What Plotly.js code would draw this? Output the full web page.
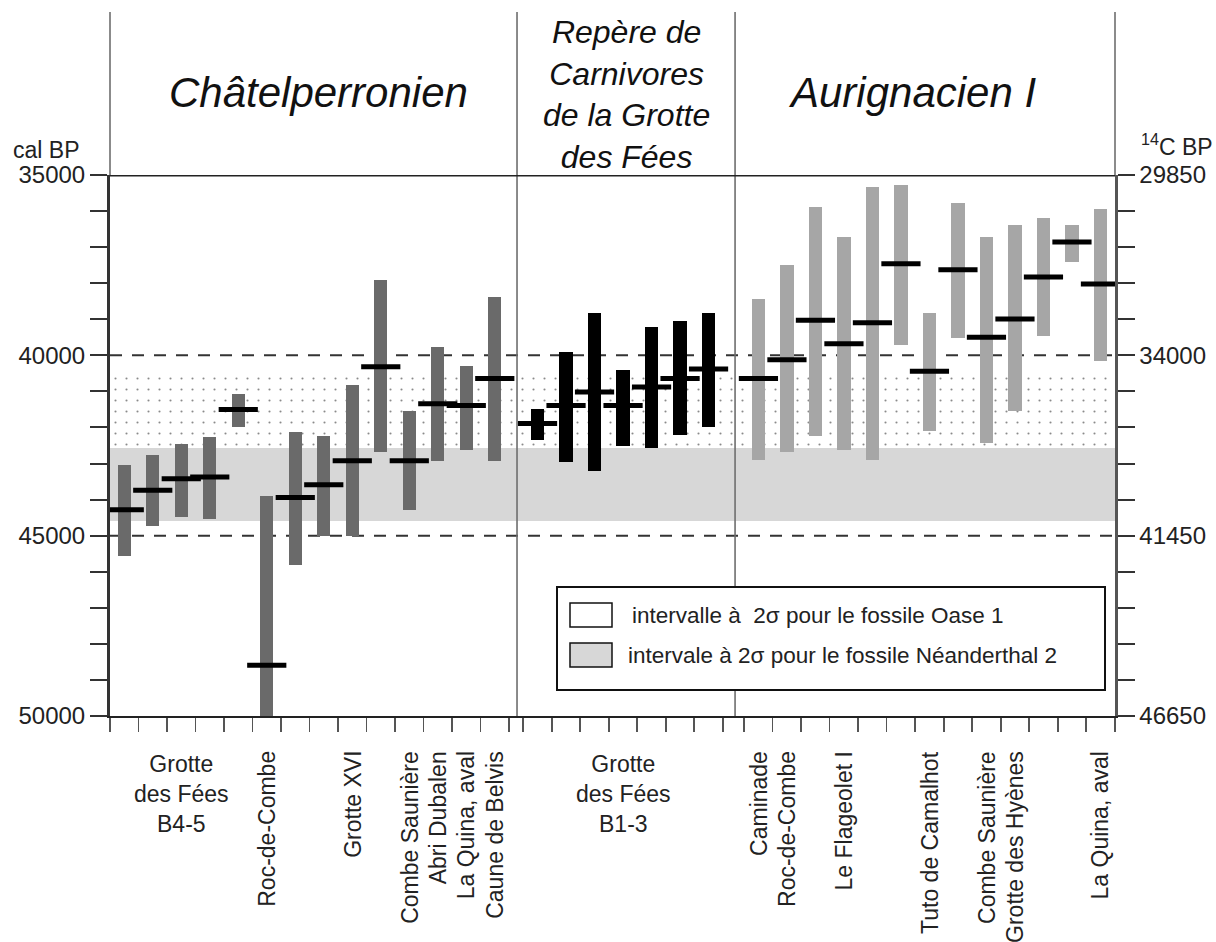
<!DOCTYPE html>
<html>
<head>
<meta charset="utf-8">
<script src="https://cdn.plot.ly/plotly-3.0.1.min.js"></script>
<style>
  html, body { margin: 0; padding: 0; background: #fff; }
  #chart { width: 1216px; height: 942px; }
</style>
</head>
<body>
<div id="chart"></div>
<script>
// ---------------- DATA ----------------
// Châtelperronien (cal BP): young bound, old bound, mean
const chatYoung = [43040, 42770, 42450, 42260, 41070, 43910, 42130, 42230, 40810, 37920, 41550, 39780, 40300, 38380];
const chatOld   = [45570, 44730, 44480, 44530, 41980, 50000, 45820, 45000, 45000, 42670, 44290, 42920, 42620, 42920];
const chatMean  = [44280, 43740, 43420, 43370, 41500, 48590, 43940, 43590, 42920, 40320, 42920, 41340, 41390, 40640];
const chatSiteLabels = ['', '', '', '', '', 'Roc-de-Combe', '', '', 'Grotte XVI', '', 'Combe Saunière', 'Abri Dubalen', 'La Quina, aval', 'Caune de Belvis'];
const chatGroupLabel = 'Grotte<br>des Fées<br>B4-5';
const chatGroupCount = 5;

// Repère de Carnivores de la Grotte des Fées
const repYoung = [41490, 39920, 38830, 40420, 39220, 39060, 38830];
const repOld   = [42350, 42950, 43210, 42500, 42570, 42220, 41980];
const repMean  = [41890, 41390, 41020, 41390, 40880, 40640, 40380];
const repGroupLabel = 'Grotte<br>des Fées<br>B1-3';

// Aurignacien I
const aurYoung = [38440, 37490, 35880, 36730, 35340, 35280, 38830, 35780, 36730, 36400, 36200, 36400, 35950];
const aurOld   = [42890, 42680, 42240, 42630, 42910, 39720, 42100, 39520, 42430, 41530, 39450, 37400, 40150];
const aurMean  = [40640, 40120, 39030, 39680, 39100, 37460, 40440, 37630, 39500, 38990, 37830, 36860, 38020];
const aurSiteLabels = ['Caminade', 'Roc-de-Combe', '', 'Le Flageolet I', '', '', 'Tuto de Camalhot', '', 'Combe Saunière', 'Grotte des Hyènes', '', '', 'La Quina, aval'];

// Section titles
const sectionTitles = ['Châtelperronien', 'Repère de<br>Carnivores<br>de la Grotte<br>des Fées', 'Aurignacien I'];

// Reference intervals (cal BP)
const oaseBand = [40500, 42560];
const neanBand = [42560, 44600];
const legendLabels = ['intervalle à\u00a0\u00a02σ pour le fossile Oase 1', 'intervale à 2σ pour le fossile Néanderthal 2'];

// Axes
const calTicks  = [35000, 40000, 45000, 50000];
const calLabels = ['35000', '40000', '45000', '50000'];
const c14Labels = ['29850', '34000', '41450', '46650'];
const dashedLevels = [40000, 45000];

// ---------------- LAYOUT HELPERS ----------------
const FONT = 'Liberation Sans, Arial, Helvetica, sans-serif';
const xMax = 35.26;
const chatStart = 0, repStart = 14.5, aurStart = 22.25;
const sep1 = 14.28, sep2 = 21.93;
const barW = 0.47;

function centers(start, n) { const a = []; for (let i = 0; i < n; i++) a.push(start + i + 0.5); return a; }
function diff(o, y) { return o.map((v, i) => v - y[i]); }

const chatX = centers(chatStart, chatYoung.length);
const repX = centers(repStart, repYoung.length);
const aurX = centers(aurStart, aurYoung.length);

const tickX = [];
for (let i = 0; i <= chatYoung.length; i++) tickX.push(chatStart + i);
for (let i = 0; i <= repYoung.length; i++) tickX.push(repStart + i);
for (let i = 0; i <= aurYoung.length; i++) tickX.push(aurStart + i);

const yTickVals = [], yTickTextL = [], yTickTextR = [];
for (let v = 35000; v <= 50000; v += 1000) {
  yTickVals.push(v);
  const k = calTicks.indexOf(v);
  yTickTextL.push(k >= 0 ? calLabels[k] : ' ');
  yTickTextR.push(k >= 0 ? c14Labels[k] : ' ');
}

function rangeBars(x, young, old, color, name) {
  return {
    type: 'bar', x: x, base: young, y: diff(old, young), width: x.map(() => barW),
    marker: { color: color, line: { width: 0 } }, name: name, showlegend: false, hoverinfo: 'skip'
  };
}
function meanMarks(x, mean) {
  return {
    type: 'scatter', mode: 'markers', x: x, y: mean,
    marker: { symbol: 'line-ew', size: 28, color: '#000', line: { width: 5, color: '#000' } },
    showlegend: false, hoverinfo: 'skip'
  };
}

const traces = [
  { type: 'bar', x: [xMax / 2], width: [xMax], base: [oaseBand[0]], y: [oaseBand[1] - oaseBand[0]],
    marker: { color: '#ffffff', line: { width: 0 },
      pattern: { shape: '.', fgcolor: '#8a8a8a', bgcolor: '#ffffff', size: 11, solidity: 0.03, fillmode: 'replace' } },
    showlegend: false, hoverinfo: 'skip' },
  { type: 'bar', x: [xMax / 2], width: [xMax], base: [neanBand[0]], y: [neanBand[1] - neanBand[0]],
    marker: { color: '#d7d7d7', line: { width: 0 } }, showlegend: false, hoverinfo: 'skip' },
  rangeBars(chatX, chatYoung, chatOld, '#6a6a6a', 'Châtelperronien'),
  rangeBars(repX, repYoung, repOld, '#000000', 'Repère'),
  rangeBars(aurX, aurYoung, aurOld, '#a6a6a6', 'Aurignacien I'),
  meanMarks(chatX, chatMean),
  meanMarks(repX, repMean),
  meanMarks(aurX, aurMean),
  { type: 'scatter', mode: 'markers', x: [1], y: [37000], yaxis: 'y2',
    marker: { size: 1, opacity: 0 }, showlegend: false, hoverinfo: 'skip' }
];

// ---------------- ANNOTATIONS ----------------
const annotations = [];
const plotH = 541, plotW = 1005;
const pyTop = px => 1 + px / plotH;         // px above plot top
const pyBelow = px => -px / plotH;          // px below plot bottom

// section titles
annotations.push({ xref: 'x', yref: 'paper', x: 7.3, y: pyTop(83), text: '<i>' + sectionTitles[0] + '</i>',
  showarrow: false, xanchor: 'center', yanchor: 'middle', font: { family: FONT, size: 42, color: '#111' } });
annotations.push({ xref: 'x', yref: 'paper', x: (sep1 + sep2) / 2, y: pyTop(81), text: '<i>' + sectionTitles[1] + '</i>',
  showarrow: false, xanchor: 'center', yanchor: 'middle', font: { family: FONT, size: 32, color: '#111' } });
annotations.push({ xref: 'x', yref: 'paper', x: 28.15, y: pyTop(83), text: '<i>' + sectionTitles[2] + '</i>',
  showarrow: false, xanchor: 'center', yanchor: 'middle', font: { family: FONT, size: 42, color: '#111' } });

// axis unit labels
annotations.push({ xref: 'paper', yref: 'paper', x: -99 / plotW, y: pyTop(25), text: 'cal BP', showarrow: false,
  xanchor: 'left', yanchor: 'middle', font: { family: FONT, size: 23, color: '#222' } });
annotations.push({ xref: 'paper', yref: 'paper', x: 1 + 24 / plotW, y: pyTop(30), text: '<sup>14</sup>C BP', showarrow: false,
  xanchor: 'left', yanchor: 'middle', font: { family: FONT, size: 23, color: '#222' } });

// bottom labels
const labFont = { family: FONT, size: 23, color: '#222' };
annotations.push({ xref: 'x', yref: 'paper', x: chatStart + chatGroupCount / 2, y: pyBelow(33), text: chatGroupLabel,
  showarrow: false, xanchor: 'center', yanchor: 'top', font: labFont });
annotations.push({ xref: 'x', yref: 'paper', x: repStart + repYoung.length / 2, y: pyBelow(33), text: repGroupLabel,
  showarrow: false, xanchor: 'center', yanchor: 'top', font: labFont });
function vLabels(xs, labels) {
  labels.forEach((t, i) => {
    if (!t) return;
    annotations.push({ xref: 'x', yref: 'paper', x: xs[i], y: pyBelow(33), text: t, textangle: -90,
      showarrow: false, xanchor: 'center', yanchor: 'top', font: labFont });
  });
}
vLabels(chatX, chatSiteLabels);
vLabels(aurX, aurSiteLabels);

// legend texts
const legFont = { family: FONT, size: 22.5, color: '#222' };
annotations.push({ xref: 'paper', yref: 'paper', x: (630 - 110) / plotW, y: (716 - 615) / plotH, text: legendLabels[0],
  showarrow: false, xanchor: 'left', yanchor: 'middle', font: legFont });
annotations.push({ xref: 'paper', yref: 'paper', x: (626 - 110) / plotW, y: (716 - 655) / plotH, text: legendLabels[1],
  showarrow: false, xanchor: 'left', yanchor: 'middle', font: legFont });

// ---------------- SHAPES ----------------
const shapes = [];
const headerTop = pyTop(163);
// header vertical lines
[0, sep1 / xMax, sep2 / xMax, 1].forEach((px, i) => {
  shapes.push({ type: 'line', xref: 'paper', yref: 'paper', x0: px, x1: px, y0: (i === 0 || i === 3) ? 1 : 0, y1: headerTop,
    line: { color: '#6e6e6e', width: 1.6 }, layer: 'above' });
});
// top border
shapes.push({ type: 'line', xref: 'paper', yref: 'y', x0: 0, x1: 1, y0: 35000, y1: 35000,
  line: { color: '#222', width: 3 }, layer: 'above' });
// dashed reference levels
dashedLevels.forEach(v => {
  shapes.push({ type: 'line', xref: 'paper', yref: 'y', x0: 0, x1: 1, y0: v, y1: v,
    line: { color: '#333', width: 2, dash: '12px,10px' }, layer: 'below' });
});
// legend box + swatches
shapes.push({ type: 'rect', xref: 'paper', yref: 'paper', x0: (557 - 110) / plotW, x1: (1105 - 110) / plotW,
  y0: (716 - 690) / plotH, y1: (716 - 587) / plotH, fillcolor: '#ffffff', line: { color: '#111', width: 2 }, layer: 'above' });
shapes.push({ type: 'rect', xref: 'paper', yref: 'paper', x0: (570 - 110) / plotW, x1: (612 - 110) / plotW,
  y0: (716 - 627) / plotH, y1: (716 - 603) / plotH, fillcolor: '#ffffff', line: { color: '#111', width: 1.5 }, layer: 'above' });
shapes.push({ type: 'rect', xref: 'paper', yref: 'paper', x0: (570 - 110) / plotW, x1: (612 - 110) / plotW,
  y0: (716 - 667) / plotH, y1: (716 - 643) / plotH, fillcolor: '#d7d7d7', line: { color: '#111', width: 1.5 }, layer: 'above' });

// ---------------- LAYOUT ----------------
const layout = {
  width: 1216, height: 942,
  margin: { l: 110, r: 101, t: 175, b: 226, pad: 0 },
  paper_bgcolor: '#ffffff', plot_bgcolor: '#ffffff',
  barmode: 'overlay', bargap: 0,
  showlegend: false,
  font: { family: FONT, color: '#222' },
  xaxis: {
    range: [0, xMax], showgrid: false, zeroline: false, fixedrange: true,
    showline: true, linecolor: '#222', linewidth: 2,
    tickmode: 'array', tickvals: tickX, ticks: 'outside', ticklen: 14, tickwidth: 1.6, tickcolor: '#555',
    showticklabels: false
  },
  yaxis: {
    range: [50000, 35000], showgrid: false, zeroline: false, fixedrange: true,
    showline: true, linecolor: '#333', linewidth: 3,
    tickmode: 'array', tickvals: yTickVals, ticktext: yTickTextL,
    ticks: 'outside', ticklen: 17, tickwidth: 2, tickcolor: '#333',
    tickfont: { family: FONT, size: 24, color: '#222' }
  },
  yaxis2: {
    overlaying: 'y', side: 'right', range: [50000, 35000], showgrid: false, zeroline: false, fixedrange: true,
    showline: true, linecolor: '#555', linewidth: 2.5,
    tickmode: 'array', tickvals: yTickVals, ticktext: yTickTextR,
    ticks: 'outside', ticklen: 17, tickwidth: 2, tickcolor: '#333',
    tickfont: { family: FONT, size: 24, color: '#222' }
  },
  shapes: shapes,
  annotations: annotations
};

Plotly.newPlot('chart', traces, layout, { staticPlot: true, displayModeBar: false });
</script>
</body>
</html>
